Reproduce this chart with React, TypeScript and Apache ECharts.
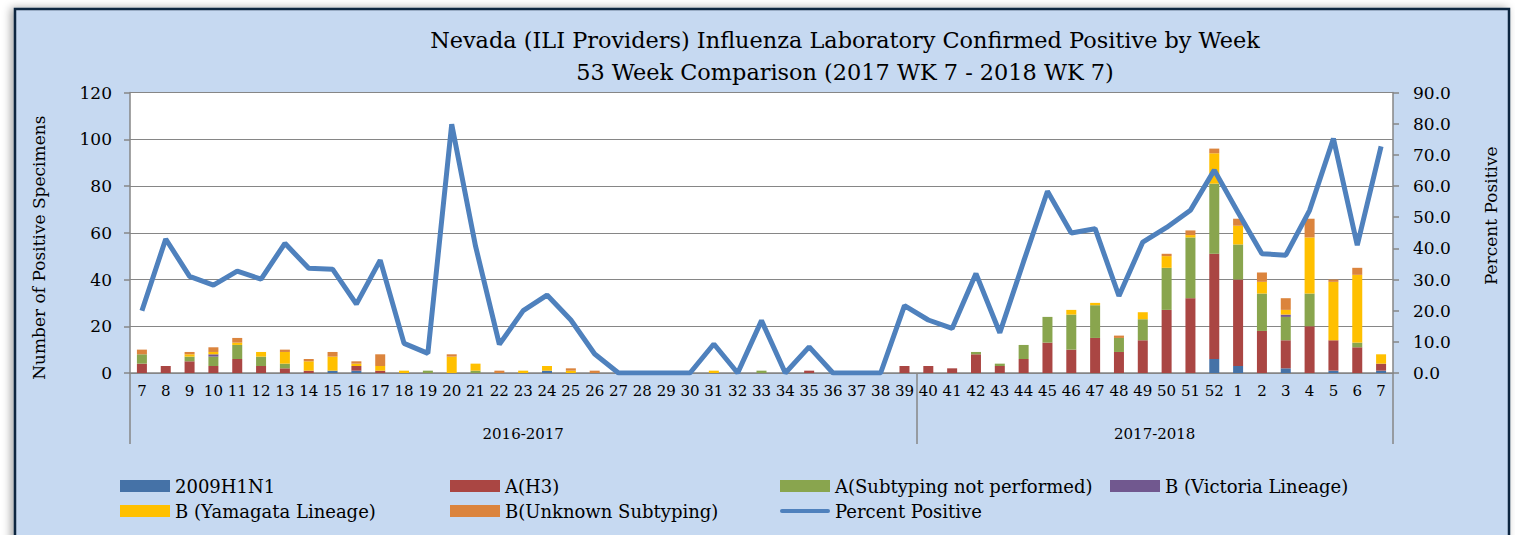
import React, { useEffect, useRef } from "react";
import * as echarts from "echarts";

const weeks = [
  7, 8, 9, 10, 11, 12, 13, 14, 15, 16, 17, 18, 19, 20, 21, 22, 23, 24, 25, 26,
  27, 28, 29, 30, 31, 32, 33, 34, 35, 36, 37, 38, 39, 40, 41, 42, 43, 44, 45, 46,
  47, 48, 49, 50, 51, 52, 1, 2, 3, 4, 5, 6, 7,
];
const seasons = ["2016-2017", "2017-2018"];
const seasonStartWeek = 40;

const h1n1 = [
  0, 0, 0, 0, 0, 0, 0, 0, 1, 1,
  0, 0, 0, 0, 0, 0, 0, 1, 0, 0,
  0, 0, 0, 0, 0, 0, 0, 0, 0, 0,
  0, 0, 0, 0, 0, 0, 0, 0, 0, 0,
  0, 0, 0, 0, 0, 6, 3, 0, 2, 0,
  1, 0, 1,
];
const h3 = [
  4, 3, 5, 3, 6, 3, 2, 1, 0, 2,
  1, 0, 0, 0, 0, 0, 0, 0, 0, 0,
  0, 0, 0, 0, 0, 0, 0, 0, 1, 0,
  0, 0, 3, 3, 2, 8, 3, 6, 13, 10,
  15, 9, 14, 27, 32, 45, 37, 18, 12, 20,
  13, 11, 3,
];
const aUnsubtyped = [
  4, 0, 2, 4, 6, 4, 2, 0, 0, 0,
  0, 0, 1, 0, 1, 0, 0, 0, 0, 0,
  0, 0, 0, 0, 0, 0, 1, 0, 0, 0,
  0, 0, 0, 0, 0, 1, 1, 6, 11, 15,
  14, 6, 9, 18, 26, 30, 15, 16, 10, 14,
  0, 2, 0,
];
const bVictoria = [
  0, 0, 0, 1, 0, 0, 0, 0, 0, 0,
  0, 0, 0, 0, 0, 0, 0, 0, 0, 0,
  0, 0, 0, 0, 0, 0, 0, 0, 0, 0,
  0, 0, 0, 0, 0, 0, 0, 0, 0, 0,
  0, 0, 0, 0, 0, 0, 0, 0, 1, 0,
  0, 0, 0,
];
const bYamagata = [
  0, 0, 1, 1, 1, 2, 5, 4, 6, 1,
  2, 1, 0, 7, 3, 0, 1, 2, 1, 0,
  0, 0, 0, 0, 1, 0, 0, 0, 0, 0,
  0, 0, 0, 0, 0, 0, 0, 0, 0, 2,
  1, 0, 3, 5, 1, 13, 8, 5, 2, 24,
  25, 29, 4,
];
const bUnknown = [
  2, 0, 1, 2, 2, 0, 1, 1, 2, 1,
  5, 0, 0, 1, 0, 1, 0, 0, 1, 1,
  0, 0, 0, 0, 0, 0, 0, 0, 0, 0,
  0, 0, 0, 0, 0, 0, 0, 0, 0, 0,
  0, 1, 0, 1, 2, 2, 3, 4, 5, 8,
  1, 3, 0,
];
const percentPositive = [
  20, 43, 31, 28.2, 32.7, 30.1, 41.6, 33.6, 33.3, 22.1,
  36.2, 9.5, 6.3, 79.8, 40.7, 9.2, 20, 25, 17, 6.1,
  0, 0, 0, 0, 9.3, 0, 16.8, 0, 8.4, 0,
  0, 0, 21.6, 17, 14.3, 31.9, 12.9, 35.8, 58.3, 44.9,
  46.3, 24.7, 42, 46.7, 52.2, 65.1, 51.5, 38.3, 37.8, 52.2,
  75.2, 41, 72.7,
];

const barSeries = [
  { name: "2009H1N1", data: h1n1, color: "#4572A7" },
  { name: "A(H3)", data: h3, color: "#AA4643" },
  { name: "A(Subtyping not performed)", data: aUnsubtyped, color: "#89A54E" },
  { name: "B (Victoria Lineage)", data: bVictoria, color: "#71588F" },
  { name: "B (Yamagata Lineage)", data: bYamagata, color: "#FFC000" },
  { name: "B(Unknown Subtyping)", data: bUnknown, color: "#DB843D" },
];
const lineName = "Percent Positive";
const lineColor = "#4F81BD";

const SERIF = "DejaVu Serif";
const AXIS_GRAY = "#868686";

export default function App() {
  const ref = useRef<HTMLDivElement>(null);

  useEffect(() => {
    if (!ref.current) return;
    const chart = echarts.init(ref.current, null, { renderer: "svg" });
    const n = weeks.length;
    const split = weeks.indexOf(seasonStartWeek);
    const bounds = [0, split, n];
    const centers = [split / 2, (split + n) / 2];

    chart.setOption({
      animation: false,
      graphic: [
        {
          type: "rect",
          z: -1,
          shape: { x: 15, y: 9, width: 1494, height: 545 },
          style: {
            fill: "#C6D9F1",
            stroke: "#10253F",
            lineWidth: 2.5,
            shadowBlur: 8,
            shadowColor: "rgba(0,0,0,0.35)",
            shadowOffsetX: -3,
          },
        },
      ],
      title: {
        text:
          "Nevada (ILI Providers) Influenza Laboratory Confirmed Positive by Week\n53 Week Comparison (2017 WK 7 - 2018 WK 7)",
        left: 840,
        top: 19,
        textAlign: "center",
        textStyle: {
          fontFamily: SERIF,
          fontSize: 22.4,
          fontWeight: "normal",
          color: "#000",
          lineHeight: 32,
        },
      },
      grid: {
        left: 130,
        right: 122,
        top: 92.5,
        bottom: 162,
        show: true,
        backgroundColor: "#FFFFFF",
        borderWidth: 0,
      },
      legend: {
        left: 115,
        top: 471,
        width: 1320,
        itemWidth: 50,
        itemHeight: 12,
        itemGap: 5,
        textStyle: {
          fontFamily: SERIF,
          fontSize: 18,
          color: "#000",
          width: 270,
          lineHeight: 20,
        },
        data: [
          ...barSeries.map((s) => ({ name: s.name, icon: "rect" })),
          {
            name: lineName,
            icon: "path://M2,0L48,0A2,2 0 0 1 48,4L2,4A2,2 0 0 1 2,0Z",
            itemStyle: { color: lineColor },
          },
        ],
      },
      xAxis: [
        {
          type: "category",
          data: weeks.map(String),
          axisLine: { lineStyle: { color: AXIS_GRAY, width: 1.5 } },
          axisTick: { show: false },
          axisLabel: {
            interval: 0,
            fontFamily: SERIF,
            fontSize: 15,
            color: "#000",
            margin: 10,
          },
        },
        {
          type: "value",
          position: "bottom",
          min: 0,
          max: n,
          axisLine: { show: false },
          splitLine: { show: false },
          axisTick: {
            show: true,
            customValues: bounds,
            length: 71,
            lineStyle: { color: AXIS_GRAY, width: 1.5 },
          },
          axisLabel: {
            customValues: centers,
            formatter: (v: number) => {
              const i = centers.findIndex((c) => Math.abs(c - v) < 1e-6);
              return i >= 0 ? seasons[i] : "";
            },
            fontFamily: SERIF,
            fontSize: 15,
            color: "#000",
            margin: 53,
          },
        },
      ],
      yAxis: [
        {
          type: "value",
          min: 0,
          max: 120,
          interval: 20,
          name: "Number of Positive Specimens",
          nameLocation: "middle",
          nameGap: 83,
          nameTextStyle: {
            fontFamily: SERIF,
            fontSize: 17,
            color: "#000",
            padding: [0, 30, 0, 0],
          },
          axisLine: { show: true, lineStyle: { color: AXIS_GRAY, width: 1.5 } },
          axisTick: { show: true, length: 6, lineStyle: { color: AXIS_GRAY, width: 1.5 } },
          axisLabel: { fontFamily: SERIF, fontSize: 17, color: "#000", margin: 18 },
          splitLine: { show: true, lineStyle: { color: AXIS_GRAY, width: 1.2 } },
        },
        {
          type: "value",
          position: "right",
          min: 0,
          max: 90,
          interval: 10,
          name: "Percent Positive",
          nameLocation: "middle",
          nameGap: 89,
          nameTextStyle: {
            fontFamily: SERIF,
            fontSize: 17,
            color: "#000",
            padding: [0, 0, 0, 34],
          },
          axisLine: { show: true, lineStyle: { color: AXIS_GRAY, width: 1.5 } },
          axisTick: { show: true, length: 6, lineStyle: { color: AXIS_GRAY, width: 1.5 } },
          axisLabel: {
            fontFamily: SERIF,
            fontSize: 17,
            color: "#000",
            margin: 20,
            formatter: (v: number) => v.toFixed(1),
          },
          splitLine: { show: false },
        },
      ],
      series: [
        ...barSeries.map((s) => ({
          name: s.name,
          type: "bar",
          stack: "total",
          xAxisIndex: 0,
          yAxisIndex: 0,
          barWidth: 10,
          data: s.data,
          itemStyle: { color: s.color },
        })),
        {
          name: lineName,
          type: "line",
          xAxisIndex: 0,
          yAxisIndex: 1,
          data: percentPositive,
          symbol: "none",
          z: 5,
          itemStyle: { color: lineColor },
          lineStyle: { color: lineColor, width: 5 },
        },
      ],
    });

    return () => chart.dispose();
  }, []);

  return (
    <div
      ref={ref}
      style={{ position: "absolute", left: 0, top: 0, width: 1515, height: 535 }}
    />
  );
}
